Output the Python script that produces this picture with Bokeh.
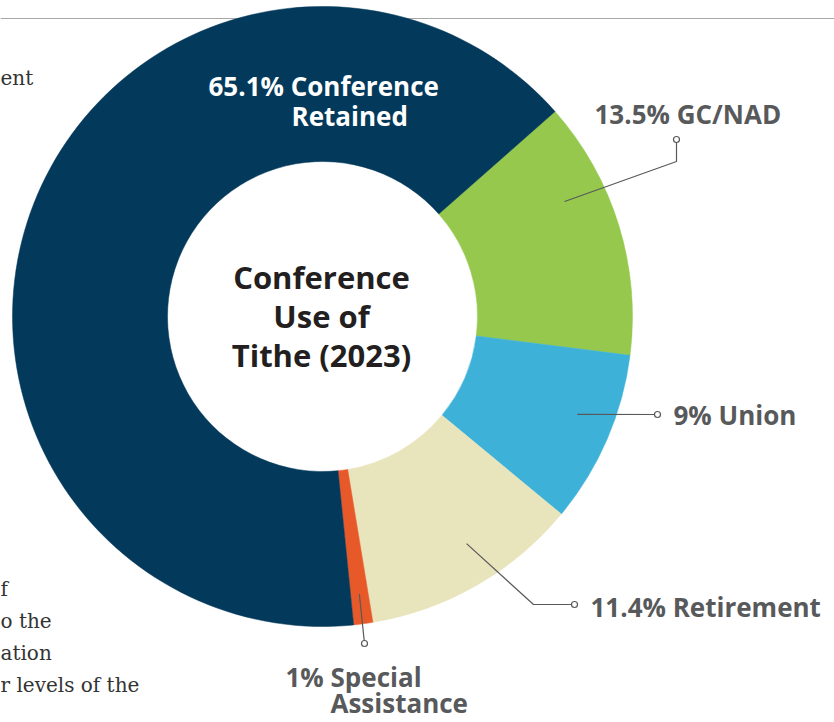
import math
from bokeh.plotting import figure
from bokeh.models import Range1d
from bokeh.core.properties import value
from bokeh.embed import file_html
from bokeh.resources import INLINE

# ---- data ----
categories = ["GC/NAD", "Union", "Retirement", "Special Assistance", "Conference Retained"]
shares = [13.5, 9.0, 11.4, 1.0, 65.1]
slice_colors = ["#95C84C", "#3EB1D8", "#E8E4BC", "#E8592A", "#03395B"]
label_texts = ["13.5% GC/NAD", "9% Union", "11.4% Retirement", "1% Special\nAssistance", "65.1% Conference\nRetained"]
center_title = ["Conference", "Use of", "Tithe (2023)"]
side_text = ["ent", "f", "o the", "ation", "r levels of the"]

# ---- layout ----
W, H = 834, 722
CX, CY = 322, 316
R_OUT, R_IN = 310, 155
START_CW = 48.6  # degrees clockwise from 12 o'clock where the first slice begins

p = figure(width=W, height=H, x_range=Range1d(0, W), y_range=Range1d(H, 0),
           output_backend="svg", toolbar_location=None, min_border=0)
p.axis.visible = False
p.grid.visible = False
p.outline_line_color = None
p.background_fill_color = "white"

# top rule line (behind donut)
p.segment(x0=[0], y0=[18], x1=[834], y1=[18], line_color="#A8A8A8", line_width=1.2)

total = sum(shares)
starts, ends, mids = [], [], []
cum = START_CW
for v in shares:
    a0 = cum
    a1 = cum + v / total * 360.0
    starts.append(math.radians(90 - a0))
    ends.append(math.radians(90 - a1))
    mids.append((a0 + a1) / 2)
    cum = a1

p.annular_wedge(x=[CX] * len(shares), y=[CY] * len(shares), inner_radius=R_IN, outer_radius=R_OUT,
                start_angle=starts, end_angle=ends, direction="clock",
                fill_color=slice_colors, line_color=slice_colors, line_width=0.5)

GREY = "#58595B"

def on_ring(cw_deg, r):
    t = math.radians(cw_deg)
    return CX + r * math.sin(t), CY - r * math.cos(t)

# leader lines: start on slice, elbow, end marker
leader_r = [268, 273, 269, 280]
leader_dang = [-8.3, -2.4, -2.5, 0.0]
elbows = [[(676, 161), (676, 139)], [(657, 414)], [(533, 604), (574, 604)], [(364, 643)]]
xs, ys, ex, ey = [], [], [], []
for i in range(4):
    sx, sy = on_ring(mids[i] + leader_dang[i], leader_r[i])
    pts = [(sx, sy)] + elbows[i]
    xs.append([q[0] for q in pts])
    ys.append([q[1] for q in pts])
    ex.append(pts[-1][0])
    ey.append(pts[-1][1])
p.multi_line(xs=xs, ys=ys, line_color=GREY, line_width=1.2)
p.scatter(x=ex, y=ey, marker="circle", size=6, fill_color="white", line_color=GREY, line_width=1.2)

FONT = value("Open Sans")
LSZ = "26px"

# outer labels
lab = [l.split("\n") for l in label_texts]
p.text(x=[594], y=[113], text=[lab[0][0]], text_font=FONT, text_font_style="bold", text_font_size=LSZ,
       text_color=GREY, text_align="left", text_baseline="middle")
p.text(x=[673], y=[414], text=[lab[1][0]], text_font=FONT, text_font_style="bold", text_font_size=LSZ,
       text_color=GREY, text_align="left", text_baseline="middle")
p.text(x=[590], y=[606], text=[lab[2][0]], text_font=FONT, text_font_style="bold", text_font_size=LSZ,
       text_color=GREY, text_align="left", text_baseline="middle")
p.text(x=[285, 330], y=[676, 702], text=lab[3], text_font=FONT, text_font_style="bold", text_font_size=LSZ,
       text_color=GREY, text_align="left", text_baseline="middle")
p.text(x=[208, 291], y=[85, 115], text=lab[4], text_font=FONT, text_font_style="bold", text_font_size=LSZ,
       text_color="white", text_align="left", text_baseline="middle")

# center title
p.text(x=[321] * 3, y=[276, 315, 354], text=center_title, text_font=FONT, text_font_style="bold",
       text_font_size="31px", text_color="#231F20", text_align="center", text_baseline="middle")

# clipped body text on the left
p.text(x=[0] * 5, y=[77, 588, 620, 652, 684], text=side_text, text_font=value("DejaVu Serif"),
       text_font_size="20px", text_color="#333333", text_align="left", text_baseline="middle")

open("out.html", "w").write(file_html(p, INLINE))
